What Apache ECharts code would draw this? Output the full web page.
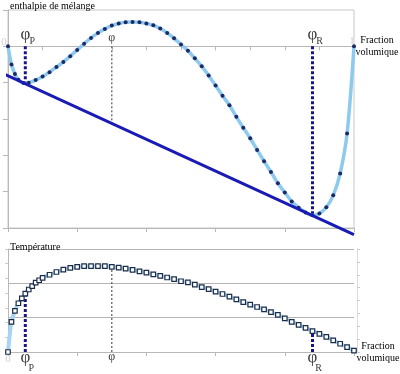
<!DOCTYPE html>
<html><head><meta charset="utf-8">
<script src="https://cdn.jsdelivr.net/npm/echarts@6/dist/echarts.min.js"></script>
<style>html,body{margin:0;padding:0;background:#fff}#c{width:400px;height:374px}</style>
</head><body><div id="c"></div><script>
// ---- data ----
const enthX = [0,0.01,0.02,0.03,0.045,0.06,0.08,0.10,0.12,0.14,0.16,0.18,0.20,0.22,0.24,0.26,0.28,0.30,0.32,0.34,0.36,0.38,0.40,0.42,0.44,0.46,0.48,0.50,0.52,0.54,0.56,0.58,0.60,0.62,0.64,0.66,0.68,0.70,0.72,0.74,0.76,0.78,0.80,0.82,0.84,0.86,0.88,0.90,0.92,0.94,0.96,0.98,1.00];
const enthY = [0,-0.5,-0.76,-0.92,-1.01,-1.0,-0.93,-0.83,-0.71,-0.57,-0.43,-0.27,-0.1,0.07,0.23,0.37,0.48,0.57,0.63,0.66,0.67,0.66,0.63,0.58,0.49,0.37,0.22,0.05,-0.12,-0.33,-0.55,-0.8,-1.08,-1.36,-1.62,-1.94,-2.24,-2.53,-2.85,-3.16,-3.46,-3.77,-4.02,-4.27,-4.44,-4.57,-4.65,-4.6,-4.43,-4.1,-3.5,-2.4,0];
const tempX = [0,0.01,0.02,0.03,0.04,0.05,0.06,0.07,0.08,0.09,0.10,0.12,0.14,0.16,0.18,0.20,0.22,0.24,0.26,0.28,0.30,0.32,0.34,0.36,0.38,0.40,0.42,0.44,0.46,0.48,0.50,0.52,0.54,0.56,0.58,0.60,0.62,0.64,0.66,0.68,0.70,0.72,0.74,0.76,0.78,0.80,0.82,0.84,0.86,0.88,0.90,0.92,0.94,0.96,0.98,1.00];
const tempY = [0,0.88,1.2,1.42,1.56,1.7,1.82,1.92,2.02,2.09,2.16,2.25,2.33,2.4,2.45,2.48,2.5,2.5,2.5,2.5,2.48,2.46,2.43,2.39,2.35,2.31,2.26,2.22,2.17,2.12,2.06,2.03,1.96,1.89,1.83,1.76,1.69,1.61,1.53,1.45,1.38,1.31,1.24,1.16,1.08,0.98,0.88,0.79,0.7,0.61,0.53,0.44,0.34,0.24,0.14,0.04];
const phiX = [0.05, 0.30, 0.88];           // φP, φ, φR
const phiSub = ['P', '', 'R'];
const enthAtPhi = [-1.02, -2.12, -4.65];   // end of vertical guides (top)
const tempAtPhi = [1.70, 2.48, 0.61];      // end of vertical guides (bottom)
const tangentX = [-0.023, 1.0];
const tangentY = [-0.708, -5.18];
const axisEndLabels = ['0', '1'];

// ---- styles ----
const SERIF = 'Liberation Serif';
const NAVY = '#16168a';
function vline(x, y0, y1, grid, isMid) {
  return {type: 'line', xAxisIndex: grid === 0 ? 0 : 2, yAxisIndex: grid === 0 ? 0 : 1,
    data: [[x, y0], [x, y1]], symbol: 'none', silent: true, z: 1,
    lineStyle: isMid ? {color: '#555', width: 1.2, type: [2, 2]} : {color: NAVY, width: 3, type: [3, 2]}};
}
function txt(x, text, size, off, color) {
  return {value: [x, 0], label: {show: true, position: 'inside', offset: off, formatter: text,
    fontFamily: SERIF, fontSize: size, color: color || '#000'}};
}
function phiLabels(top) {
  const out = [];
  for (let i = 0; i < phiX.length; i++) {
    if (phiSub[i]) {
      out.push(txt(phiX[i], 'φ', 17, top ? [0, -11.5] : [0, 5.5]));
      out.push(txt(phiX[i], phiSub[i], 10, top ? [7, -4.5] : [6, 16]));
    } else {
      out.push(txt(phiX[i], 'φ', 12, top ? [0, -8.5] : [0, 5]));
    }
  }
  return out;
}
const series = [];
// top curve
series.push({type: 'line', xAxisIndex: 0, yAxisIndex: 0, z: 3,
  data: enthX.map((x, i) => [x, enthY[i]]), smooth: 0.3,
  symbol: 'circle', symbolSize: 4, showSymbol: true,
  itemStyle: {color: '#1d2a66', borderColor: '#1d2a66', borderWidth: 0},
  lineStyle: {color: '#8ccaf0', width: 3.5}});
// tangent
series.push({type: 'line', xAxisIndex: 0, yAxisIndex: 0, z: 4, clip: false,
  data: tangentX.map((x, i) => [x, tangentY[i]]), symbol: 'none',
  lineStyle: {color: '#1a1ab4', width: 3}});
// bottom curve
series.push({type: 'line', xAxisIndex: 2, yAxisIndex: 1, z: 3,
  data: tempX.map((x, i) => [x, tempY[i]]), smooth: 0.3,
  symbol: 'rect', symbolSize: 4.5, showSymbol: true,
  itemStyle: {color: '#ffffff', borderColor: '#1c2c48', borderWidth: 1.2},
  lineStyle: {color: '#a6d4f2', width: 4}});
// vertical guides
for (let i = 0; i < phiX.length; i++) {
  series.push(vline(phiX[i], 0, enthAtPhi[i], 0, i === 1));
  series.push(vline(phiX[i], 0, tempAtPhi[i], 1, i === 1));
}
// labels
const endGray = '#c4c4c4';
series.push({type: 'scatter', xAxisIndex: 0, yAxisIndex: 0, symbolSize: 0, silent: true, z: 6,
  data: phiLabels(true).concat([
    txt(0, axisEndLabels[0], 11, [-4, -4], endGray),
    txt(1, axisEndLabels[1], 11, [-2, -5], endGray)])});
series.push({type: 'scatter', xAxisIndex: 2, yAxisIndex: 1, symbolSize: 0, silent: true, z: 6,
  data: phiLabels(false).concat([txt(0, axisEndLabels[0], 11, [0, 7], endGray)])});

const gray = '#b8b8b8';
const nameStyle = {fontFamily: SERIF, fontSize: 10, color: '#000', align: 'left', lineHeight: 12};
const xNameStyle = Object.assign({}, nameStyle, {align: 'center'});
const chart = echarts.init(document.getElementById('c'), null, {renderer: 'canvas'});
chart.setOption({
  animation: false,
  grid: [
    {left: 8, top: 10, width: 346, height: 218, show: true, borderColor: '#c8c8c8', borderWidth: 1,
      containLabel: false, outerBoundsMode: 'none'},
    {left: 8, top: 249, width: 346, height: 103, containLabel: false, outerBoundsMode: 'none'}
  ],
  xAxis: [
    {type: 'value', gridIndex: 0, min: 0, max: 1, interval: 0.1, position: 'bottom',
      axisLine: {onZero: true, lineStyle: {color: gray}}, axisTick: {length: 4, lineStyle: {color: gray}},
      axisLabel: {show: false}, splitLine: {show: false},
      name: 'Fraction\nvolumique', nameLocation: 'end', nameGap: 23, nameTextStyle: xNameStyle},
    {type: 'value', gridIndex: 0, min: 0, max: 1, interval: 0.2, position: 'bottom', offset: 0,
      axisLine: {onZero: false, lineStyle: {color: gray}}, axisTick: {length: 4, lineStyle: {color: gray}},
      axisLabel: {show: false}, splitLine: {show: false}},
    {type: 'value', gridIndex: 1, min: 0, max: 1, interval: 0.2, position: 'bottom',
      axisLine: {onZero: false, lineStyle: {color: gray}}, axisTick: {length: 4, lineStyle: {color: gray}},
      axisLabel: {show: false}, splitLine: {show: false},
      name: 'Fraction\nvolumique', nameLocation: 'end', nameGap: 24, nameTextStyle: xNameStyle}
  ],
  yAxis: [
    {type: 'value', gridIndex: 0, min: -5, max: 1, interval: 1,
      axisLine: {show: true, lineStyle: {color: gray}}, axisTick: {show: true, length: 5, lineStyle: {color: gray}},
      axisLabel: {show: false}, splitLine: {show: false},
      name: 'enthalpie de mélange', nameLocation: 'end', nameGap: -2,
      nameTextStyle: Object.assign({}, nameStyle, {padding: [0, 0, 0, 2]})},
    {type: 'value', gridIndex: 1, min: 0, max: 3, interval: 1,
      axisLine: {show: true, lineStyle: {color: gray}}, axisTick: {show: false},
      axisLabel: {show: false}, splitLine: {show: true, lineStyle: {color: '#b4b4b4'}},
      name: 'Température', nameLocation: 'end', nameGap: -4,
      nameTextStyle: Object.assign({}, nameStyle, {padding: [0, 0, 0, 2]})},
    {type: 'value', gridIndex: 1, min: 0, max: 7, interval: 1, position: 'left',
      axisLine: {show: false}, axisTick: {show: true, length: 3, lineStyle: {color: '#cccccc'}},
      axisLabel: {show: false}, splitLine: {show: false}},
    {type: 'value', gridIndex: 1, min: 0, max: 8, interval: 1, position: 'right', offset: 3,
      axisLine: {show: true, lineStyle: {color: '#dddddd'}}, axisTick: {show: true, length: 3, lineStyle: {color: '#cccccc'}},
      axisLabel: {show: false}, splitLine: {show: false}}
  ],
  series: series
});
</script></body></html>
